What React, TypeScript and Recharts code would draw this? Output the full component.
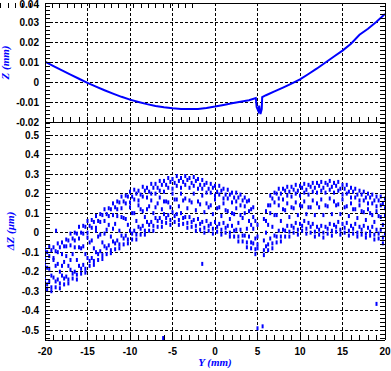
import { CartesianGrid, Label, Line, LineChart, Scatter, ScatterChart, XAxis, YAxis } from 'recharts';

// Profil de surface (haut) et résidus de scan (bas), axe commun Y en mm.

const BLEU = '#0000ff';

// --- panneau haut : Z (mm) le long de Y ---
const SURF_Y = [
  -20, -19, -18, -17, -16, -15, -14, -13, -12, -11, -10, -9, -8, -7, -6, -5, -4, -3, -2, -1, 0, 1, 2, 3, 4,
  4.8, 4.9, 5.1, 5.2, 5.35, 5.5, 5.55, 6, 7, 8, 9, 10, 11, 12, 13, 14, 15, 16, 17, 18, 19, 20,
];
const SURF_Z = [
  0.0105, 0.0082, 0.006, 0.0039, 0.0018, -0.0003, -0.0022, -0.004, -0.0057, -0.0073, -0.0087, -0.0099, -0.011,
  -0.0119, -0.0126, -0.0131, -0.0134, -0.0135, -0.0134, -0.0129, -0.0122, -0.0114, -0.0106, -0.0098, -0.009,
  -0.0079, -0.0125, -0.0145, -0.0118, -0.016, -0.0135, -0.0075, -0.0065, -0.0046, -0.0027, -0.0007, 0.0015,
  0.0042, 0.007, 0.01, 0.013, 0.016, 0.0195, 0.024, 0.027, 0.0305, 0.0345,
];

// --- panneau bas : ΔZ (µm), relevés par bandes ---
const GRILLE_A = [
  -20, -19.5, -19, -18.5, -18, -17.5, -17, -16.5, -16, -15.5,
  -15, -14.5, -14, -13.5, -13, -12.5, -12, -11.5, -11, -10.5,
  -10, -9.5, -9, -8.5, -8, -7.5, -7, -6.5, -6, -5.5,
  -5, -4.5, -4, -3.5, -3, -2.5, -2, -1.5, -1, -0.5,
  0, 0.5, 1, 1.5, 2, 2.5, 3, 3.5, 4, 4.5,
  5, 5.5, 6, 6.5, 7, 7.5, 8, 8.5, 9, 9.5,
  10, 10.5, 11, 11.5, 12, 12.5, 13, 13.5, 14, 14.5,
  15, 15.5, 16, 16.5, 17, 17.5, 18, 18.5, 19, 19.5,
  20,
];
const BANDE_SOMMET = [
  -0.085, -0.07, -0.075, -0.055, -0.05, -0.035, -0.005, 0, 0.03, 0.035,
  0.06, 0.065, 0.085, 0.095, 0.12, 0.125, 0.15, 0.16, 0.185, 0.19,
  0.21, 0.22, 0.215, 0.235, 0.23, 0.25, 0.25, 0.265, 0.265, 0.28,
  0.275, 0.29, 0.28, 0.29, 0.28, 0.285, 0.275, 0.27, 0.255, 0.25,
  0.24, 0.24, 0.225, 0.22, 0.205, 0.205, 0.195, 0.18, 0.165, 0.13,
  0.04, null, 0.11, 0.19, 0.205, 0.225, 0.225, 0.235, 0.235, 0.245,
  0.24, 0.25, 0.245, 0.255, 0.255, 0.26, 0.255, 0.265, 0.255, 0.26,
  0.245, 0.245, 0.23, 0.225, 0.215, 0.21, 0.2, 0.195, 0.185, 0.185,
  0.175,
];
const BANDE_HAUTE = [
  -0.13, -0.12, -0.13, -0.1, -0.11, -0.07, -0.065, -0.04, -0.03, -0.005,
  0, 0.025, 0.025, 0.055, 0.06, 0.085, 0.09, 0.12, 0.125, 0.15,
  0.155, 0.17, 0.165, 0.185, 0.18, 0.2, 0.2, 0.215, 0.21, 0.23,
  0.225, 0.24, 0.23, 0.245, 0.23, 0.24, 0.225, 0.225, 0.205, 0.205,
  0.19, 0.195, 0.175, 0.175, 0.155, 0.16, 0.14, 0.135, 0.11, 0.08,
  -0.02, null, 0.06, 0.14, 0.155, 0.175, 0.17, 0.19, 0.185, 0.2,
  0.19, 0.205, 0.195, 0.21, 0.205, 0.215, 0.205, 0.22, 0.205, 0.215,
  0.195, 0.2, 0.18, 0.18, 0.165, 0.165, 0.15, 0.15, 0.135, 0.14,
  0.125,
];
const BANDE_CREUX = [
  -0.16, -0.185, -0.14, -0.16, -0.17, -0.12, -0.14, -0.075, -0.075, -0.07,
  -0.025, -0.04, 0.01, -0.01, -0.005, 0.04, 0.02, 0.085, 0.08, 0.07,
  0.13, 0.1, 0.14, 0.11, 0.12, 0.165, 0.13, 0.18, 0.16, 0.155,
  0.2, 0.17, 0.2, 0.175, 0.165, 0.2, 0.16, 0.19, 0.15, 0.14,
  0.17, 0.13, 0.15, 0.11, 0.1, 0.125, 0.09, 0.1, 0.06, 0.02,
  -0.06, null, 0, 0.1, 0.09, 0.14, 0.12, 0.15, 0.13, 0.155,
  0.14, 0.16, 0.13, 0.165, 0.15, 0.17, 0.14, 0.175, 0.16, 0.145,
  0.17, 0.135, 0.15, 0.12, 0.14, 0.105, 0.12, 0.09, 0.11, 0.08,
  0.09,
];
const BANDE_BASSE = [
  -0.24, -0.25, -0.23, -0.24, -0.22, -0.225, -0.19, -0.2, -0.17, -0.165,
  -0.13, -0.13, -0.1, -0.095, -0.07, -0.065, -0.045, -0.04, -0.015, -0.015,
  0.01, 0.01, 0.03, 0.035, 0.055, 0.055, 0.075, 0.075, 0.095, 0.09,
  0.105, 0.095, 0.1, 0.08, 0.08, 0.065, 0.07, 0.055, 0.06, 0.045,
  0.055, 0.045, 0.05, 0.035, 0.035, 0.015, 0.015, -0.015, -0.02, -0.055,
  -0.08, null, -0.07, -0.03, -0.015, 0.01, 0.015, 0.035, 0.035, 0.05,
  0.045, 0.06, 0.05, 0.045, 0.03, 0.035, 0.03, 0.045, 0.04, 0.055,
  0.045, 0.05, 0.035, 0.045, 0.03, 0.035, 0.025, 0.03, 0.015, 0.015,
  -0.005,
];

const GRILLE_B = [
  -19.75, -19.25, -18.75, -18.25, -17.75, -17.25, -16.75, -16.25, -15.75, -15.25,
  -14.75, -14.25, -13.75, -13.25, -12.75, -12.25, -11.75, -11.25, -10.75, -10.25,
  -9.75, -9.25, -8.75, -8.25, -7.75, -7.25, -6.75, -6.25, -5.75, -5.25,
  -4.75, -4.25, -3.75, -3.25, -2.75, -2.25, -1.75, -1.25, -0.75, -0.25,
  0.25, 0.75, 1.25, 1.75, 2.25, 2.75, 3.25, 3.75, 4.25, 4.75,
  5.25, 5.75, 6.25, 6.75, 7.25, 7.75, 8.25, 8.75, 9.25, 9.75,
  10.25, 10.75, 11.25, 11.75, 12.25, 12.75, 13.25, 13.75, 14.25, 14.75,
  15.25, 15.75, 16.25, 16.75, 17.25, 17.75, 18.25, 18.75, 19.25, 19.75,
];
const BANDE_DENSE = [
  -0.1, -0.09, -0.095, -0.075, -0.07, -0.04, -0.03, -0.005, 0, 0.03,
  0.035, 0.055, 0.06, 0.09, 0.095, 0.12, 0.13, 0.155, 0.16, 0.185,
  0.185, 0.2, 0.195, 0.215, 0.21, 0.23, 0.23, 0.245, 0.245, 0.26,
  0.255, 0.265, 0.26, 0.27, 0.255, 0.265, 0.245, 0.245, 0.225, 0.23,
  0.21, 0.215, 0.195, 0.195, 0.18, 0.18, 0.165, 0.16, 0.12, 0.06,
  null, 0.07, 0.14, 0.175, 0.2, 0.2, 0.215, 0.21, 0.22, 0.215,
  0.23, 0.22, 0.235, 0.23, 0.24, 0.23, 0.245, 0.235, 0.24, 0.225,
  0.225, 0.21, 0.21, 0.195, 0.195, 0.18, 0.18, 0.165, 0.165, 0.15,
];
const BANDE_MILIEU = [
  -0.18, -0.22, -0.17, -0.2, -0.15, -0.17, -0.11, -0.14, -0.08, -0.11,
  -0.05, -0.08, -0.02, -0.05, 0.015, -0.02, 0.045, 0.01, 0.075, 0.04,
  0.1, 0.06, 0.12, 0.08, 0.135, 0.1, 0.15, 0.12, 0.16, 0.13,
  0.17, 0.135, 0.165, 0.125, 0.155, 0.115, 0.145, 0.105, 0.13, 0.095,
  0.125, 0.085, 0.115, 0.07, 0.095, 0.05, 0.075, 0.02, 0.04, -0.03,
  null, -0.04, 0.04, 0.03, 0.09, 0.06, 0.115, 0.08, 0.125, 0.09,
  0.135, 0.095, 0.13, 0.09, 0.13, 0.09, 0.135, 0.095, 0.14, 0.095,
  0.13, 0.085, 0.12, 0.075, 0.11, 0.065, 0.1, 0.055, 0.085, 0.04,
];
const BANDE_APPUI = [
  -0.265, -0.28, -0.25, -0.26, -0.235, -0.24, -0.21, -0.215, -0.185, -0.185,
  -0.145, -0.145, -0.11, -0.115, -0.08, -0.09, -0.055, -0.06, -0.03, -0.035,
  -0.005, -0.01, 0.02, 0.01, 0.04, 0.035, 0.06, 0.055, 0.075, 0.065,
  0.085, 0.065, 0.075, 0.05, 0.055, 0.035, 0.045, 0.025, 0.035, 0.02,
  0.03, 0.015, 0.025, 0, 0.01, -0.02, -0.015, -0.05, -0.05, -0.085,
  null, -0.09, -0.06, -0.055, -0.02, -0.02, 0.01, 0.005, 0.025, 0.015,
  0.035, 0.02, 0.03, 0.005, 0.015, 0, 0.02, 0.01, 0.03, 0.015,
  0.025, 0.01, 0.02, 0, 0.015, -0.005, 0.005, -0.01, -0.005, -0.025,
];
const BANDE_BORD = [
  -0.29, -0.3, -0.28, -0.285, -0.265, -0.26, -0.235, -0.24, -0.21, -0.205,
  -0.17, -0.165, -0.14, -0.135, -0.11, -0.105, -0.085, -0.08, -0.06, -0.055,
  -0.035, -0.035, -0.01, -0.01, 0.01, 0.01, 0.03, 0.03, 0.05, 0.04,
  0.055, 0.04, 0.045, 0.025, 0.03, 0.01, 0.015, 0, 0.01, -0.005,
  0.005, -0.01, 0, -0.02, -0.02, -0.045, -0.045, -0.075, -0.08, -0.11,
  null, -0.115, -0.09, -0.08, -0.05, -0.045, -0.02, -0.02, 0, -0.01,
  0.01, -0.005, 0, -0.02, -0.01, -0.025, -0.005, -0.015, 0.005, -0.01,
  0, -0.015, -0.005, -0.02, -0.01, -0.025, -0.015, -0.035, -0.03, -0.055,
];

// points isolés
const ISOLES_Y = [-18.7, -1.5, -6.1, 5.0, 5.6, 19.0];
const ISOLES_DZ = [0.01, -0.16, -0.54, -0.49, -0.48, -0.365];

// --- graduations ---
const X_GRAD = [
  -20, -19, -18, -17, -16, -15, -14, -13, -12, -11, -10, -9, -8, -7, -6, -5, -4, -3, -2, -1, 0,
  1, 2, 3, 4, 5, 6, 7, 8, 9, 10, 11, 12, 13, 14, 15, 16, 17, 18, 19, 20,
];
const X_LIBELLES = [-20, -15, -10, -5, 0, 5, 10, 15, 20];
const X_GRILLE = [-15, -10, -5, 0, 5, 10, 15];

const Z_GRAD = [
  -0.02, -0.018, -0.016, -0.014, -0.012, -0.01, -0.008, -0.006, -0.004, -0.002, 0, 0.002, 0.004, 0.006,
  0.008, 0.01, 0.012, 0.014, 0.016, 0.018, 0.02, 0.022, 0.024, 0.026, 0.028, 0.03, 0.032, 0.034, 0.036,
  0.038, 0.04,
];
const Z_LIBELLES = [-0.02, -0.01, 0, 0.01, 0.02, 0.03, 0.04];
const Z_GRILLE = [-0.01, 0, 0.01, 0.02, 0.03];

const DZ_GRAD = [
  -0.54, -0.52, -0.5, -0.48, -0.46, -0.44, -0.42, -0.4, -0.38, -0.36, -0.34, -0.32, -0.3, -0.28, -0.26,
  -0.24, -0.22, -0.2, -0.18, -0.16, -0.14, -0.12, -0.1, -0.08, -0.06, -0.04, -0.02, 0, 0.02, 0.04, 0.06,
  0.08, 0.1, 0.12, 0.14, 0.16, 0.18, 0.2, 0.22, 0.24, 0.26, 0.28, 0.3, 0.32, 0.34, 0.36, 0.38, 0.4, 0.42,
  0.44, 0.46, 0.48, 0.5, 0.52, 0.54, 0.56,
];
const DZ_LIBELLES = [-0.5, -0.4, -0.3, -0.2, -0.1, 0, 0.1, 0.2, 0.3, 0.4, 0.5];

const surface = SURF_Y.map((y, i) => ({ y, z: SURF_Z[i] }));

const releves: { y: number; dz: number }[] = [];
for (const bande of [BANDE_SOMMET, BANDE_HAUTE, BANDE_CREUX, BANDE_BASSE]) {
  bande.forEach((v, i) => {
    if (v !== null) releves.push({ y: GRILLE_A[i], dz: v });
  });
}
for (const bande of [BANDE_DENSE, BANDE_MILIEU, BANDE_APPUI, BANDE_BORD]) {
  bande.forEach((v, i) => {
    if (v !== null) releves.push({ y: GRILLE_B[i], dz: v });
  });
}
ISOLES_Y.forEach((y, i) => releves.push({ y, dz: ISOLES_DZ[i] }));

const police = {
  fontFamily: '"Liberation Sans", Arial, sans-serif',
  fontSize: 10,
  fontWeight: 700,
  fill: '#000',
};
const policeTitre = {
  fontFamily: '"Liberation Serif", "Times New Roman", serif',
  fontSize: 11,
  fontStyle: 'italic' as const,
  fontWeight: 700,
  fill: BLEU,
};

const estDans = (liste: number[], v: number) => liste.some((m) => Math.abs(m - v) < 1e-9);
const LONG = 5;

type P = { x: number; y: number; payload: { value: number } };

const tickGauche = (libelles: number[]) => ({ x, y, payload }: P) => (
  <g>
    <line x1={x} x2={x + LONG} y1={y} y2={y} stroke="#000" />
    {estDans(libelles, payload.value) && (
      <text x={x - 6} y={Math.max(y + 3.5, 8)} textAnchor="end" {...police}>
        {String(payload.value)}
      </text>
    )}
  </g>
);
const tickDroite = ({ x, y }: P) => <line x1={x - LONG} x2={x} y1={y} y2={y} stroke="#000" />;
const tickHaut = ({ x, y }: P) => <line x1={x} x2={x} y1={y} y2={y + LONG} stroke="#000" />;
const tickBas = (libelles: number[]) => ({ x, y, payload }: P) => (
  <g>
    <line x1={x} x2={x} y1={y - LONG} y2={y} stroke="#000" />
    {estDans(libelles, payload.value) && (
      <text x={x} y={y + 15} textAnchor="middle" {...police}>
        {String(payload.value)}
      </text>
    )}
  </g>
);

const titreVertical = (texte: string, dx: number) => (props: any) => {
  const vb = props.viewBox ?? { x: 0, y: 0, width: 45, height: 100 };
  const cx = vb.x + dx;
  const cy = vb.y + vb.height / 2;
  return (
    <text x={cx} y={cy} transform={`rotate(-90 ${cx} ${cy})`} textAnchor="middle" {...policeTitre}>
      {texte}
    </text>
  );
};
const titreBas = (props: any) => {
  const vb = props.viewBox ?? { x: 45, y: 340, width: 340, height: 1 };
  return (
    <text x={vb.x + vb.width / 2} y={vb.y + 26} textAnchor="middle" {...policeTitre}>
      Y (mm)
    </text>
  );
};

const axeCommun = { tickSize: 0, tickMargin: 0, tickLine: false, interval: 0 as const, axisLine: { stroke: '#000' } };

export default function App() {
  return (
    <div style={{ position: 'absolute', left: 0, top: 0, width: 391, height: 371, background: '#fff' }}>
      <style>{`.recharts-wrapper line { shape-rendering: crispEdges; }`}</style>
      <div style={{ position: 'absolute', left: 0, top: 0 }}>
        <LineChart width={391} height={371} data={surface} margin={{ top: 2, right: 5, bottom: 248, left: 0 }}>
          <CartesianGrid
            xAxisId="b"
            yAxisId="l"
            stroke="#000"
            strokeDasharray="3 2"
            horizontalValues={Z_GRILLE}
            verticalValues={X_GRILLE}
          />
          <XAxis xAxisId="b" dataKey="y" type="number" domain={[-20, 20]} ticks={X_GRAD} height={1} tick={tickBas([])} allowDataOverflow {...axeCommun} />
          <XAxis xAxisId="t" orientation="top" type="number" domain={[-20, 20]} ticks={X_GRAD} height={1} tick={tickHaut} allowDataOverflow {...axeCommun} />
          <YAxis yAxisId="l" type="number" domain={[-0.02, 0.04]} ticks={Z_GRAD} width={45} tick={tickGauche(Z_LIBELLES)} allowDataOverflow {...axeCommun}>
            <Label content={titreVertical('Z (mm)', 9)} />
          </YAxis>
          <YAxis yAxisId="r" orientation="right" type="number" domain={[-0.02, 0.04]} ticks={Z_GRAD} width={1} tick={tickDroite} allowDataOverflow {...axeCommun} />
          <Line
            xAxisId="b"
            yAxisId="l"
            dataKey="z"
            type="linear"
            stroke={BLEU}
            strokeWidth={2}
            dot={false}
            isAnimationActive={false}
          />
        </LineChart>
      </div>
      <div style={{ position: 'absolute', left: 0, top: 0 }}>
        <ScatterChart width={391} height={371} margin={{ top: 121, right: 5, bottom: 30, left: 0 }}>
          <CartesianGrid
            xAxisId="b"
            yAxisId="l"
            stroke="#000"
            strokeDasharray="3 2"
            horizontalValues={DZ_LIBELLES}
            verticalValues={X_GRILLE}
          />
          <XAxis xAxisId="b" dataKey="y" type="number" domain={[-20, 20]} ticks={X_GRAD} height={1} tick={tickBas(X_LIBELLES)} allowDataOverflow {...axeCommun}>
            <Label content={titreBas} />
          </XAxis>
          <XAxis xAxisId="t" orientation="top" type="number" domain={[-20, 20]} ticks={X_GRAD} height={1} tick={tickHaut} allowDataOverflow {...axeCommun} />
          <YAxis yAxisId="l" dataKey="dz" type="number" domain={[-0.55, 0.567]} ticks={DZ_GRAD} width={45} tick={tickGauche(DZ_LIBELLES)} allowDataOverflow {...axeCommun}>
            <Label content={titreVertical('ΔZ (µm)', 14)} />
          </YAxis>
          <YAxis yAxisId="r" orientation="right" type="number" domain={[-0.55, 0.567]} ticks={DZ_GRAD} width={1} tick={tickDroite} allowDataOverflow {...axeCommun} />
          <Scatter
            xAxisId="b"
            yAxisId="l"
            data={releves}
            dataKey="dz"
            fill={BLEU}
            isAnimationActive={false}
            shape={(p: any) => <rect x={p.cx - 1} y={p.cy - 2} width={2} height={4} fill={BLEU} />}
          />
        </ScatterChart>
      </div>
    </div>
  );
}
